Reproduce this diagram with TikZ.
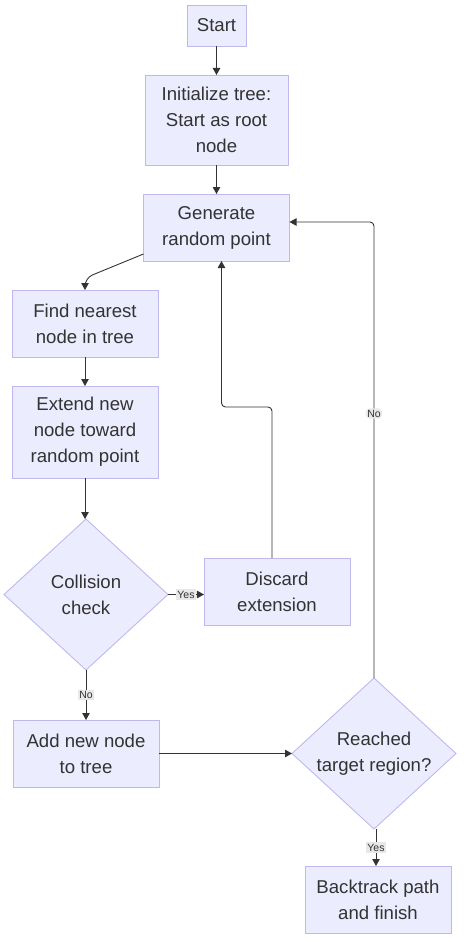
\documentclass[tikz,border=0pt]{standalone}
\usepackage{fontspec}
\setmainfont{Liberation Sans}
\usetikzlibrary{shapes.geometric}
\usetikzlibrary{positioning,arrows.meta}
\definecolor{nodefill}{HTML}{ECECFF}
\definecolor{nodeline}{HTML}{BFB8EE}
\definecolor{edgeline}{HTML}{333333}
\definecolor{labelfill}{HTML}{E8E8E8}
\tikzset{
    stepbox/.style={
        draw=nodeline, fill=nodefill, line width=0.9pt,
        text=edgeline, align=center, inner sep=0pt, outer sep=0pt,
        minimum width=146pt, minimum height=67pt
    },
    decision/.style={
        diamond, aspect=1.09, draw=nodeline, fill=nodefill, line width=0.9pt,
        text=edgeline, align=center, inner sep=0pt, outer sep=0pt,
        minimum width=164pt, minimum height=151pt
    },
    edgelabel/.style={
        fill=labelfill, text=edgeline, inner sep=1.5pt,
        font=\fontsize{10.5}{12}\selectfont
    }
}

\begin{document}
\begin{tikzpicture}[
    font=\fontsize{18.6}{26}\selectfont,
    arrow/.style={-{Triangle[length=7pt,width=7.5pt]}, draw=edgeline, line width=0.9pt},
]
\useasboundingbox (-216.5pt,25.5pt) rectangle (247.5pt,-916.5pt);

% ============ Main column ============

\node[stepbox, minimum width=59pt, minimum height=41pt] (start) {Start};

\node[stepbox, minimum width=143pt, minimum height=90pt, below=29pt of start] (init)
    {Initialize tree:\\Start as root\\node};

\node[stepbox, below=29pt of init] (gen) {Generate\\random point};

\node[stepbox, below=29pt of gen, xshift=-131.5pt] (find)
    {Find nearest\\node in tree};

\node[stepbox, minimum height=92pt, below=29pt of find] (extend)
    {Extend new\\node toward\\random point};

\node[decision, below=41pt of extend, xshift=1pt] (coll) {Collision\\check};

\node[stepbox, right=36pt of coll, yshift=3pt] (discard) {Discard\\extension};

\node[stepbox, below=50pt of coll] (add) {Add new node\\to tree};

% ============ Goal test ============

\node[decision, right=133pt of add] (reach) {Reached\\target region?};

\node[stepbox, below=37pt of reach, xshift=4pt] (back)
    {Backtrack path\\and finish};

% ============ Arrows ============

\draw[arrow] (start) -- (init);
\draw[arrow] (init) -- (gen);
\draw[arrow, rounded corners=8pt] ([yshift=7pt]gen.south west)
    -- ([yshift=12pt]find.north) -- (find.north);
\draw[arrow] (find) -- (extend);
\draw[arrow] (extend.south) -- (extend.south |- coll.north);

\draw[arrow] (coll.east) -- node[edgelabel] {Yes} (coll.east -| discard.west);
\draw[arrow, rounded corners=4pt] ([xshift=-5pt]discard.north)
    -- ++(0,151pt) -| ([xshift=5pt]gen.south);

\draw[arrow] (coll) -- node[edgelabel] {No} (add);
\draw[arrow] (add) -- (reach);

\draw[arrow, rounded corners=4pt] (reach.north)
    |- node[edgelabel, pos=0.29] {No} ([yshift=5.5pt]gen.east);
\draw[arrow] ([xshift=2pt]reach.south) -- node[edgelabel] {Yes}
    ([xshift=2pt]reach.south |- back.north);

\end{tikzpicture}
\end{document}
